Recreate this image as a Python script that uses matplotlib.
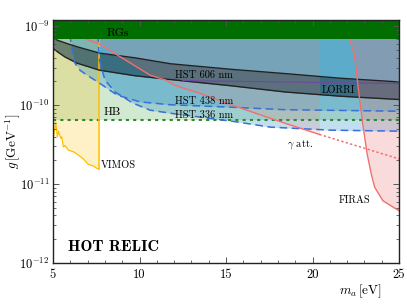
import numpy as np
import matplotlib.pyplot as plt
from matplotlib.ticker import MultipleLocator, LogLocator, FuncFormatter, NullFormatter

plt.rcParams['font.family'] = ['cmr10', 'DejaVu Serif']
plt.rcParams['mathtext.fontset'] = 'cm'
plt.rcParams['axes.unicode_minus'] = False

# all couplings below are log10(g / GeV^-1)
g_top = -8.92
g_rgs = -9.155
g_hb = -10.185
m_vimos_edge = 7.65

vimos_m = [5.00, 5.06, 5.12, 5.16, 5.20, 5.25, 5.32, 5.36, 5.45, 5.50, 5.60, 5.69,
           5.89, 6.18, 6.46, 6.75, 7.04, 7.33, 7.53, 7.65]
vimos_g = [-10.44, -10.35, -10.28, -10.22, -10.29, -10.40, -10.33, -10.36, -10.42, -10.40,
           -10.53, -10.51, -10.57, -10.59, -10.63, -10.68, -10.75, -10.77, -10.80, -10.81]

band_m = [5.0, 5.3, 5.7, 6.4, 7.7, 9.75, 11.8, 15.25, 18.4, 21.6, 25.0]
hst606_hi = [-9.15, -9.18, -9.21, -9.26, -9.34, -9.40, -9.475, -9.544, -9.599, -9.658, -9.705]
hst606_lo = [-9.28, -9.33, -9.39, -9.468, -9.557, -9.627, -9.675, -9.753, -9.832, -9.886, -9.928]

hst438_m = [5.93, 6.0, 6.1, 6.27, 6.56, 6.97, 7.61, 8.71, 10.04, 11.77, 15.25, 18.43, 25.0]
hst438_g = [-8.95, -9.15, -9.30, -9.468, -9.557, -9.62, -9.709, -9.873, -9.958, -9.994,
            -10.025, -10.057, -10.076]

hst336_m = [7.55, 7.62, 7.66, 7.84, 8.01, 8.59, 9.63, 10.62, 11.77, 15.54, 17.57, 21.04, 25.0]
hst336_g = [-8.95, -9.2, -9.405, -9.557, -9.684, -9.832, -9.975, -10.063, -10.101, -10.209,
            -10.278, -10.316, -10.329]

lorri_m = [12.5, 13.5, 18.4, 25.0]
lorri_g = [-9.685, -9.692, -9.705, -9.725]

gatt_m = [6.0, 6.68, 7.72, 10.62, 11.5, 12.06, 13.5, 15.36, 18.43, 20.4]
gatt_g = [-9.06, -9.14, -9.23, -9.62, -9.68, -9.75, -9.85, -10.0, -10.23, -10.37]
gatt_dot_m = [20.4, 25.0]
gatt_dot_g = [-10.37, -10.68]

firas_m = [22.05, 22.14, 22.43, 22.66, 22.89, 23.16, 23.40, 23.59, 24.07, 25.0]
firas_g = [-8.95, -9.152, -9.367, -9.81, -10.215, -10.62, -10.873, -11.038, -11.211, -11.338]


def G(v):
    return 10 ** np.asarray(v, dtype=float)


fig = plt.figure(figsize=(4.07, 3.08), dpi=100)
ax = fig.add_axes([53 / 407, 1 - 263 / 308, 346 / 407, 243 / 308])
ax.set_yscale('log')
ax.set_xlim(5, 25)
ax.set_ylim(1e-12, G(g_top))

top = G(g_top)
blue = '#0a82c8'
pink = '#ee7070'

# HB
ax.fill_between([5, 25], G(g_hb), top, color='green', alpha=0.18, lw=0, zorder=1)
# VIMOS
ax.fill_between(vimos_m, G(vimos_g), top, color='#ffc000', alpha=0.22, lw=0, zorder=1)
# HST fills
ax.fill_between(hst336_m, G(hst336_g), top, color=blue, alpha=0.25, lw=0, zorder=1)
ax.fill_between(hst438_m, G(hst438_g), top, color=blue, alpha=0.25, lw=0, zorder=1)
ax.fill_between(band_m, G(hst606_lo), top, color=blue, alpha=0.25, lw=0, zorder=1)
ax.fill_between(band_m, G(hst606_lo), G(hst606_hi), color='black', alpha=0.36, lw=0, zorder=1)
# photon attenuation and FIRAS
ax.fill_between(gatt_m, G(gatt_g), top, color='#f08070', alpha=0.18, lw=0, zorder=1)
ax.fill_betweenx(G(firas_g), firas_m, 25, color=pink, alpha=0.25, lw=0, zorder=1)

# lines
ax.axhline(G(g_hb), color='#2a8c2a', lw=1.5, ls=(0, (1.5, 2.0)), zorder=2)
ax.plot(vimos_m, G(vimos_g), color='#ffc000', lw=0.9, zorder=2)
ax.plot([m_vimos_edge, m_vimos_edge], [G(vimos_g[-1]), top], color='#ffc000', lw=1.1, zorder=2)
ax.plot(band_m, G(hst606_hi), color='#222222', lw=1.0, zorder=2)
ax.plot(band_m, G(hst606_lo), color='#222222', lw=1.0, zorder=2)
ax.plot(lorri_m, G(lorri_g), color='#6a4c9c', lw=0.9, zorder=2)
ax.plot(hst438_m, G(hst438_g), color='#3a6fd8', lw=1.1, ls=(0, (5, 3)), zorder=2)
ax.plot(hst336_m, G(hst336_g), color='#3a6fd8', lw=1.1, ls=(0, (5, 3)), zorder=2)
ax.plot(gatt_m, G(gatt_g), color='#f07070', lw=1.0, zorder=2)
ax.plot(gatt_dot_m, G(gatt_dot_g), color='#f07070', lw=1.1, ls=(0, (1.5, 1.5)), zorder=2)
ax.plot(firas_m, G(firas_g), color='#f07070', lw=1.0, zorder=2)

# RGs on top
ax.axhspan(G(g_rgs), top, color='#006e00', lw=0, zorder=2.2)

fs = 7.5
ax.text(8.1, G(-9.09), 'RGs', fontsize=8.5, va='center', zorder=3)
ax.text(7.95, G(-10.09), 'HB', fontsize=8.5, va='center', zorder=3)
ax.text(7.78, G(-10.76), 'VIMOS', fontsize=fs, va='center', zorder=3)
ax.text(12.05, G(-9.62), 'HST 606 nm', fontsize=fs, va='center', zorder=3)
ax.text(12.05, G(-9.95), 'HST 438 nm', fontsize=fs, va='center', zorder=3)
ax.text(12.05, G(-10.127), 'HST 336 nm', fontsize=fs, va='center', zorder=3)
ax.text(20.52, G(-9.81), 'LORRI', fontsize=fs, va='center', zorder=3)
ax.text(18.55, G(-10.494), r'$\gamma$ att.', fontsize=fs, va='center', zorder=3)
ax.text(21.5, G(-11.2), 'FIRAS', fontsize=fs, va='center', zorder=3)
ax.text(5.87, G(-11.80), 'HOT RELIC', fontsize=11.5, va='center', family='cmb10', zorder=3)

ax.set_axisbelow(False)
ax.xaxis.set_major_locator(MultipleLocator(5))
ax.xaxis.set_minor_locator(MultipleLocator(1))
ax.yaxis.set_major_locator(LogLocator(base=10))
ax.yaxis.set_minor_locator(LogLocator(base=10, subs=np.arange(2, 10)))
ax.yaxis.set_major_formatter(FuncFormatter(lambda v, p: r'$10^{%d}$' % round(np.log10(v))))
ax.yaxis.set_minor_formatter(NullFormatter())
ax.tick_params(which='both', direction='in', top=True, right=True, color='#555555', labelsize=9)
ax.tick_params(which='major', length=4, width=0.7)
ax.tick_params(which='minor', length=2.3, width=0.6)
ax.tick_params(axis='x', pad=4.5)
ax.tick_params(axis='y', pad=2.5)
for s in ax.spines.values():
    s.set_color('#222222')
    s.set_linewidth(1.0)
    s.set_zorder(3)

ax.set_xlabel(r'$m_a\,[\mathrm{eV}]$', fontsize=9.5)
ax.xaxis.set_label_coords(0.887, -0.08)
ax.set_ylabel(r'$g\,[\mathrm{GeV}^{-1}]$', fontsize=9.5)
ax.yaxis.set_label_coords(-0.09, 0.5)

fig.savefig('out.png', dpi=100)
